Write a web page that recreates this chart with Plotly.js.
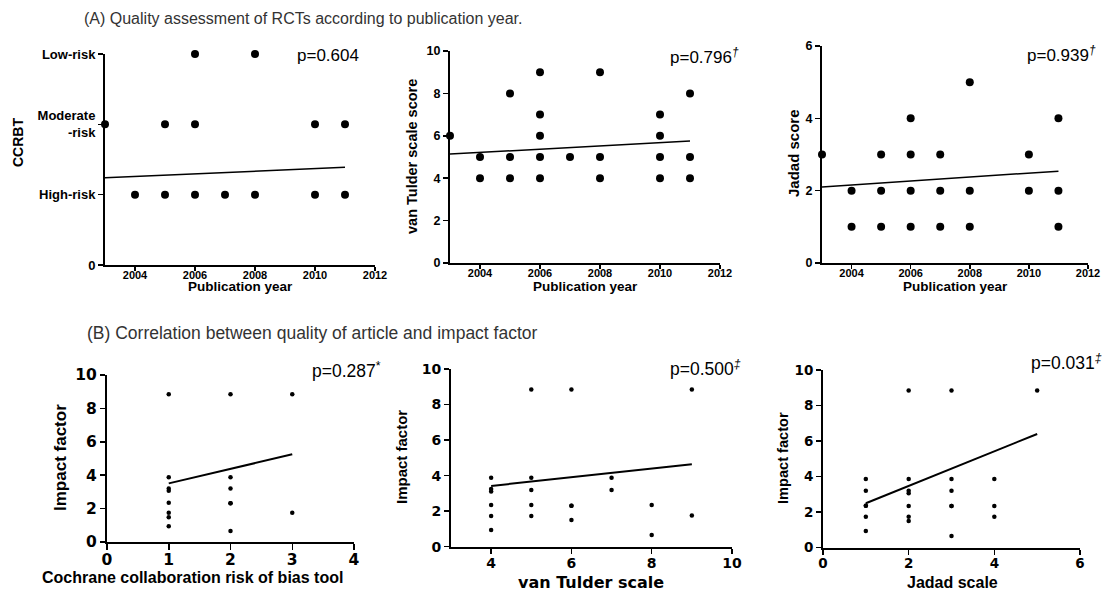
<!DOCTYPE html>
<html>
<head>
<meta charset="utf-8">
<script src="https://cdn.plot.ly/plotly-3.0.1.min.js"></script>
<style>html,body{margin:0;padding:0;background:#fff;}#chart{width:1106px;height:591px;}</style>
</head>
<body>
<div id="chart"></div>
<script>
// ---------- Data ----------
// (A) quality vs publication year
const yearA1 = [2006, 2008, 2003, 2005, 2006, 2010, 2011, 2004, 2005, 2006, 2007, 2008, 2010, 2011];
const ccrbtA1 = [3, 3, 2, 2, 2, 2, 2, 1, 1, 1, 1, 1, 1, 1];
const ccrbtTickVals = [0, 1, 2, 3];
const ccrbtTickText = ['0', 'High-risk', 'Moderate<br>-risk', 'Low-risk'];
const fitA1X = [2003, 2011];
const fitA1Y = [1.24, 1.39];

const yearA2 = [2003, 2004, 2004, 2005, 2005, 2005, 2006, 2006, 2006, 2006, 2006, 2007, 2008, 2008, 2008, 2010, 2010, 2010, 2010, 2011, 2011, 2011];
const vanTulderA2 = [6, 5, 4, 8, 5, 4, 9, 7, 6, 5, 4, 5, 9, 5, 4, 7, 6, 5, 4, 8, 5, 4];
const fitA2X = [2003, 2011];
const fitA2Y = [5.14, 5.75];

const yearA3 = [2003, 2004, 2004, 2005, 2005, 2005, 2006, 2006, 2006, 2006, 2007, 2007, 2007, 2008, 2008, 2008, 2010, 2010, 2011, 2011, 2011];
const jadadA3 = [3, 2, 1, 3, 2, 1, 4, 3, 2, 1, 3, 2, 1, 5, 2, 1, 3, 2, 4, 2, 1];
const fitA3X = [2003, 2011];
const fitA3Y = [2.1, 2.54];

const yearTicks = [2004, 2006, 2008, 2010, 2012];

// (B) quality vs impact factor
const ccrbtB1 = [1, 1, 1, 1, 1, 1, 1, 1, 2, 2, 2, 2, 2, 2, 3, 3];
const impactB1 = [8.85, 3.87, 3.21, 3.07, 2.35, 1.75, 1.48, 0.94, 8.85, 3.87, 3.21, 2.32, 2.32, 0.66, 8.85, 1.75];
const fitB1X = [1, 3];
const fitB1Y = [3.51, 5.25];

const vanTulderB2 = [4, 4, 4, 4, 4, 4, 5, 5, 5, 5, 5, 6, 6, 6, 6, 7, 7, 8, 8, 9, 9];
const impactB2 = [3.88, 3.25, 3.1, 2.35, 1.73, 0.94, 8.85, 3.88, 3.19, 2.35, 1.73, 8.85, 2.31, 2.31, 1.5, 3.88, 3.19, 2.35, 0.66, 8.85, 1.75];
const fitB2X = [4, 9];
const fitB2Y = [3.42, 4.64];

const jadadB3 = [1, 1, 1, 1, 1, 1, 2, 2, 2, 2, 2, 2, 2, 3, 3, 3, 3, 3, 3, 4, 4, 4, 5];
const impactB3 = [3.87, 3.2, 2.36, 2.36, 1.74, 0.94, 8.85, 3.87, 3.2, 3.06, 2.35, 1.74, 1.5, 8.85, 3.87, 3.2, 2.35, 2.35, 0.66, 3.87, 2.35, 1.74, 8.85];
const fitB3X = [1, 5];
const fitB3Y = [2.5, 6.4];

const impactTicks = [0, 2, 4, 6, 8, 10];

// ---------- Helpers ----------
const W = 1106, H = 591;
const px = v => v / W;
const py = v => 1 - v / H;
const ARIAL = 'Liberation Sans, Arial, sans-serif';
const DEJAVU = 'DejaVu Sans, sans-serif';

function axis(domain, range, tickvals, ticktext, font, anchor, standoff, ticklen) {
  return {
    domain: domain, range: range, anchor: anchor,
    tickvals: tickvals, ticktext: ticktext || tickvals.map(String),
    showline: true, linecolor: '#000', linewidth: 2,
    ticks: 'outside', ticklen: ticklen || 5, tickwidth: 1.5, tickcolor: '#000',
    ticklabelstandoff: standoff || 0,
    showgrid: false, zeroline: false,
    tickfont: font, fixedrange: true
  };
}
function dots(x, y, xa, ya, size) {
  return {x: x, y: y, xaxis: xa, yaxis: ya, type: 'scatter', mode: 'markers',
    marker: {color: '#000', size: size}, cliponaxis: false, hoverinfo: 'skip'};
}
function fit(x, y, xa, ya, w) {
  return {x: x, y: y, xaxis: xa, yaxis: ya, type: 'scatter', mode: 'lines',
    line: {color: '#000', width: w}, cliponaxis: false, hoverinfo: 'skip'};
}

const traces = [
  dots(yearA1, ccrbtA1, 'x', 'y', 8), fit(fitA1X, fitA1Y, 'x', 'y', 1.5),
  dots(yearA2, vanTulderA2, 'x2', 'y2', 8), fit(fitA2X, fitA2Y, 'x2', 'y2', 1.5),
  dots(yearA3, jadadA3, 'x3', 'y3', 8), fit(fitA3X, fitA3Y, 'x3', 'y3', 1.5),
  dots(ccrbtB1, impactB1, 'x4', 'y4', 4.5), fit(fitB1X, fitB1Y, 'x4', 'y4', 2),
  dots(vanTulderB2, impactB2, 'x5', 'y5', 4.5), fit(fitB2X, fitB2Y, 'x5', 'y5', 2),
  dots(jadadB3, impactB3, 'x6', 'y6', 4.5), fit(fitB3X, fitB3Y, 'x6', 'y6', 2)
];

const fA = {family: ARIAL, size: 11, color: '#000', weight: 'bold'};
const fAy1 = {family: ARIAL, size: 13, color: '#000', weight: 'bold'};
const fAy = {family: ARIAL, size: 12.5, color: '#000', weight: 'bold'};
const fB1 = {family: DEJAVU, size: 15.5, color: '#000', weight: 'bold'};
const fB2 = {family: DEJAVU, size: 14, color: '#000', weight: 'bold'};
const fB3 = {family: DEJAVU, size: 13.5, color: '#000', weight: 'bold'};

const layout = {
  width: W, height: H, margin: {l: 0, r: 0, t: 0, b: 0},
  paper_bgcolor: '#fff', plot_bgcolor: 'rgba(0,0,0,0)', showlegend: false,
  xaxis:  axis([px(105), px(375)], [2003, 2012], yearTicks, null, fA, 'y', -5, 4),
  yaxis:  axis([py(265), py(54)], [0, 3], ccrbtTickVals, ccrbtTickText, fAy1, 'x'),
  xaxis2: axis([px(450), px(720)], [2003, 2012], yearTicks, null, fA, 'y2', -5, 4),
  yaxis2: axis([py(263), py(51)], [0, 10], [0, 2, 4, 6, 8, 10], null, fAy, 'x2'),
  xaxis3: axis([px(822), px(1088)], [2003, 2012], yearTicks, null, fA, 'y3', -5, 4),
  yaxis3: axis([py(263), py(46)], [0, 6], [0, 2, 4, 6], null, fAy, 'x3'),
  xaxis4: axis([px(107), px(354)], [0, 4], [0, 1, 2, 3, 4], null, fB1, 'y4', -4, 6),
  yaxis4: axis([py(542), py(375)], [0, 10], impactTicks, null, fB1, 'x4'),
  xaxis5: axis([px(451), px(732)], [3, 10], [4, 6, 8, 10], null, fB2, 'y5', -3),
  yaxis5: axis([py(546.7), py(369)], [0, 10], impactTicks, null, fB2, 'x5'),
  xaxis6: axis([px(823), px(1080)], [0, 6], [0, 2, 4, 6], null, fB3, 'y6', -3),
  yaxis6: axis([py(547.7), py(370)], [0, 10], impactTicks, null, fB3, 'x6'),
  annotations: []
};

function ann(text, x, y, font, opts) {
  layout.annotations.push(Object.assign({
    text: text, xref: 'paper', yref: 'paper', x: px(x), y: py(y),
    xanchor: 'center', yanchor: 'middle', showarrow: false, font: font
  }, opts || {}));
}

// Section headings
ann('(A) Quality assessment of RCTs according to publication year.', 82, 19,
  {family: ARIAL, size: 16, color: '#333'}, {xanchor: 'left'});
ann('(B) Correlation between quality of article and impact factor', 85, 333,
  {family: ARIAL, size: 17.5, color: '#333'}, {xanchor: 'left'});

// p-values
const pA = {family: ARIAL, size: 17, color: '#000'};
const pB = {family: ARIAL, size: 17.5, color: '#000'};
ann('p=0.604', 295, 56, pA, {xanchor: 'left'});
ann('p=0.796<sup><i>†</i></sup>', 668, 56, pA, {xanchor: 'left'});
ann('p=0.939<sup><i>†</i></sup>', 1025, 54, pA, {xanchor: 'left'});
ann('p=0.287<sup>*</sup>', 310, 370, pB, {xanchor: 'left'});
ann('p=0.500<sup><i>‡</i></sup>', 668, 368, pB, {xanchor: 'left'});
ann('p=0.031<sup><i>‡</i></sup>', 1104, 362, pB, {xanchor: 'right'});

// Axis titles - A
const tA = {family: ARIAL, size: 13.5, color: '#000', weight: 'bold'};
ann('Publication year', 240, 287, tA);
ann('Publication year', 585, 287, tA);
ann('Publication year', 955, 287, tA);
ann('CCRBT', 18, 143, {family: ARIAL, size: 14, color: '#000', weight: 'bold'}, {textangle: -90});
ann('van Tulder scale score', 412, 157, {family: ARIAL, size: 14.5, color: '#000', weight: 'bold'}, {textangle: -90});
ann('Jadad score', 793, 153, {family: ARIAL, size: 15, color: '#000', weight: 'bold'}, {textangle: -90});

// Axis titles - B
ann('Cochrane collaboration risk of bias tool', 192, 577, {family: ARIAL, size: 16, color: '#000', weight: 'bold'});
ann('van Tulder scale', 591, 582, {family: DEJAVU, size: 16, color: '#000', weight: 'bold'});
ann('Jadad scale', 952, 582, {family: ARIAL, size: 16, color: '#000', weight: 'bold'});
ann('Impact factor', 60, 458, {family: ARIAL, size: 17, color: '#000', weight: 'bold'}, {textangle: -90});
ann('Impact factor', 402, 457, {family: ARIAL, size: 15, color: '#000', weight: 'bold'}, {textangle: -90});
ann('Impact factor', 783, 458, {family: ARIAL, size: 14.6, color: '#000', weight: 'bold'}, {textangle: -90});

Plotly.newPlot('chart', traces, layout, {staticPlot: true, displayModeBar: false});
</script>
</body>
</html>
